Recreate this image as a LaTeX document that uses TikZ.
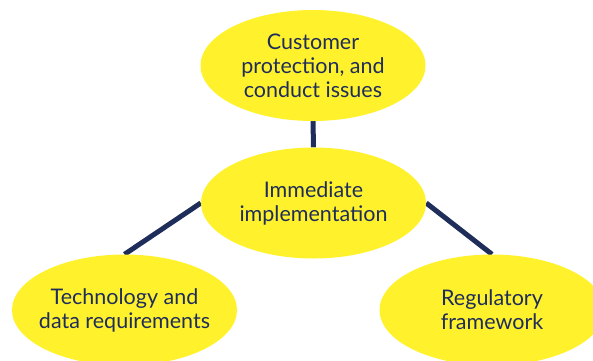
\documentclass[tikz,border=0pt]{standalone}
\usepackage{fontspec}
\setmainfont{Lato}
\usetikzlibrary{shapes.geometric,backgrounds}
\definecolor{navy}{HTML}{1F2D5A}
\definecolor{sun}{HTML}{FFF22C}
\begin{document}
\begin{tikzpicture}[x=1pt,y=-1pt,
  bubble/.style={ellipse, fill=sun, text=navy, minimum width=225pt, minimum height=111pt,
    inner xsep=-30pt, inner ysep=-10pt, align=center, font=\fontsize{21.5}{24}\selectfont},
  link/.style={draw=navy, line width=5pt}]
  \clip (0,0) rectangle (593,360);
  \node[bubble] (top) at (313,65.5) {Customer\\protection, and\\conduct issues};
  \node[bubble] (mid) at (313.5,203) {Immediate\\implementation};
  \node[bubble] (left) at (124.5,310) {Technology and\\data requirements};
  \node[bubble] (right) at (492,310) {Regulatory\\framework};
  % connectors sit behind the bubbles
  \begin{scope}[on background layer]
    \draw[link] (top.south) -- (mid.north);
    \draw[link] (mid.west) -- (left.north);
    \draw[link] (mid.east) -- (right.north);
  \end{scope}
\end{tikzpicture}
\end{document}
